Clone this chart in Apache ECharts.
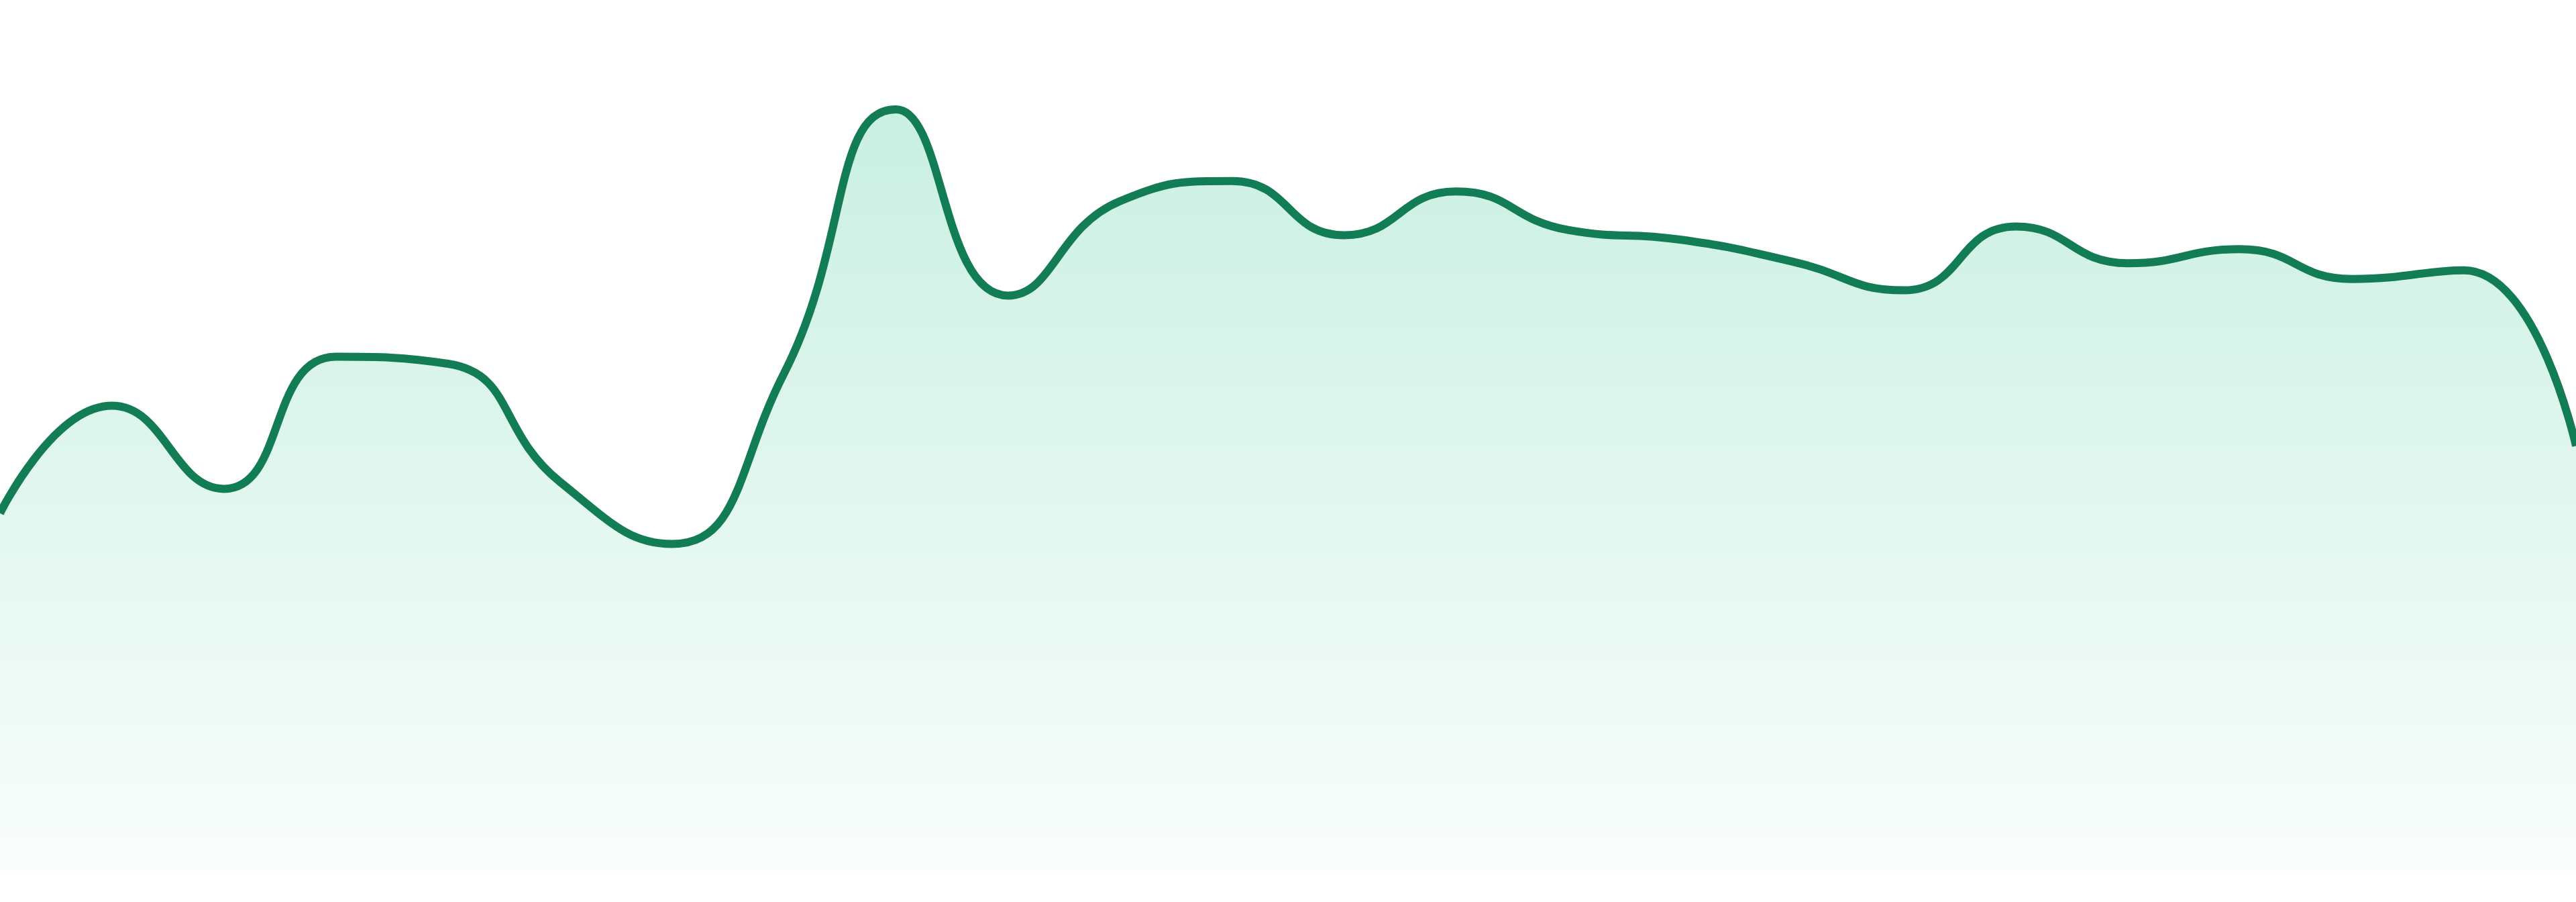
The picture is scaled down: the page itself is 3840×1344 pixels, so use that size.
<!DOCTYPE html>
<html>
<head>
<meta charset="utf-8">
<title>area line</title>
<script src="https://cdn.jsdelivr.net/npm/echarts@6/dist/echarts.min.js"></script>
<style>
  html, body { margin: 0; padding: 0; background: #ffffff; }
  #main { width: 3840px; height: 1344px; }
</style>
</head>
<body>
<div id="main"></div>
<script>
// 横轴 24 个点（图上没有标签）
var categories = ["1", "2", "3", "4", "5", "6", "7", "8", "9", "10", "11", "12",
  "13", "14", "15", "16", "17", "18", "19", "20", "21", "22", "23", "24"];
// 数值 (0 - 100)
var values = [41.3, 53.6, 44.1, 59.2, 58.4, 44.9, 37.8, 57.3, 87.5, 66.2, 77.0, 79.3,
  73.1, 78.1, 73.7, 72.6, 70.1, 66.8, 74.1, 69.9, 71.5, 68.1, 69.1, 49.0];
var yMin = 0;
var yMax = 100;

var chart = echarts.init(document.getElementById("main"));
var option = {
  animation: false,
  backgroundColor: "#ffffff",
  grid: {
    left: 0,
    right: 0,
    top: 0,
    bottom: 41
  },
  xAxis: {
    type: "category",
    data: categories,
    boundaryGap: false,
    show: false
  },
  yAxis: {
    type: "value",
    min: yMin,
    max: yMax,
    show: false,
    splitLine: { show: false }
  },
  series: [
    {
      type: "line",
      data: values,
      smooth: true,
      symbol: "none",
      clip: false,
      lineStyle: {
        color: "#127c54",
        width: 12
      },
      areaStyle: {
        // 上深下浅的渐变
        color: new echarts.graphic.LinearGradient(0, 0, 0, 1, [
          { offset: 0, color: "rgba(16, 185, 129, 0.32)" },
          { offset: 1, color: "rgba(16, 185, 129, 0.03)" }
        ])
      }
    }
  ]
};
chart.setOption(option);
</script>
</body>
</html>
